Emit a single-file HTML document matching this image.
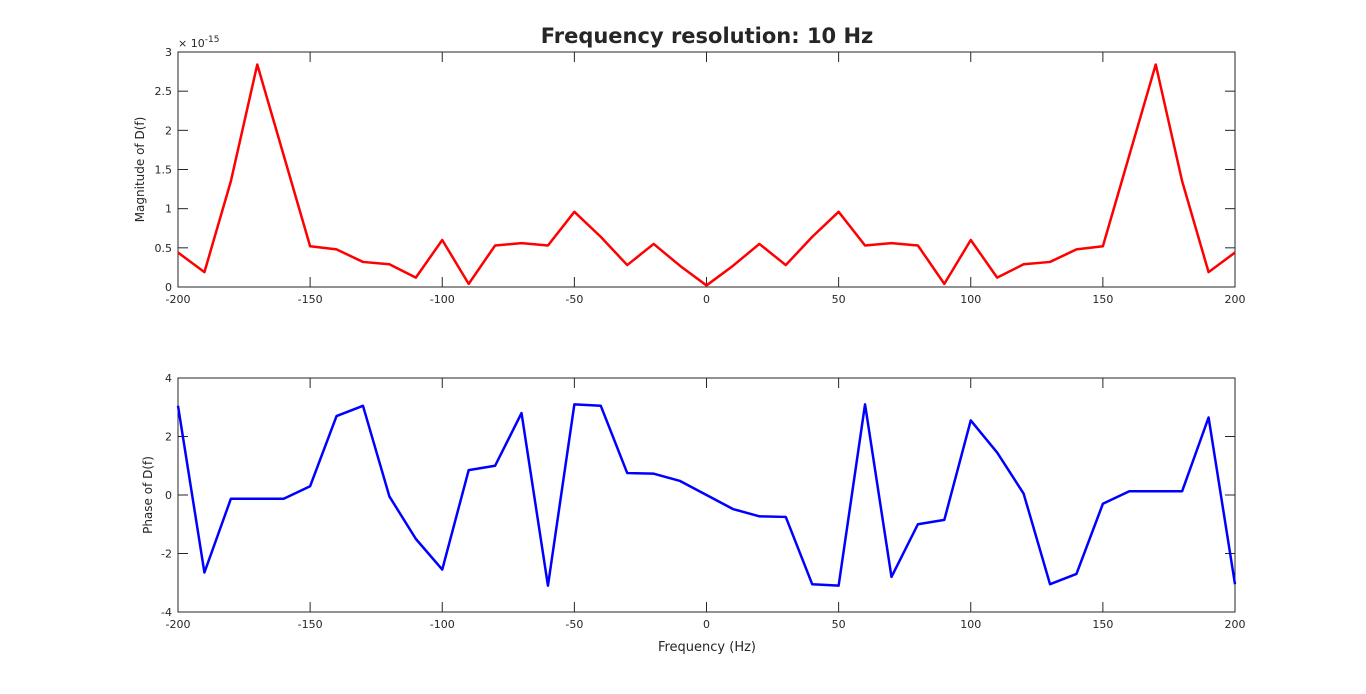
<!DOCTYPE html>
<html><head><meta charset="utf-8"><style>
body{margin:0;background:#fff;}
svg text{font-family:"DejaVu Sans","Liberation Sans",sans-serif;fill:#262626;}
</style></head><body>
<svg id="c" width="1366" height="689" xmlns="http://www.w3.org/2000/svg"></svg>
<script>
const freqs=[-200,-190,-180,-170,-160,-150,-140,-130,-120,-110,-100,-90,-80,-70,-60,-50,-40,-30,-20,-10,0,10,20,30,40,50,60,70,80,90,100,110,120,130,140,150,160,170,180,190,200];
const magHalf=[0.44,0.19,1.35,2.84,1.68,0.52,0.48,0.32,0.29,0.12,0.60,0.04,0.53,0.56,0.53,0.96,0.64,0.28,0.55,0.27,0.02];
const magnitude=magHalf.concat(magHalf.slice(0,20).reverse());
const phase=[3.05,-2.65,-0.13,-0.13,-0.13,0.3,2.7,3.05,-0.05,-1.5,-2.55,0.85,1.0,2.8,-3.1,3.1,3.05,0.75,0.73,0.48,0,-0.48,-0.73,-0.75,-3.05,-3.1,3.1,-2.8,-1.0,-0.85,2.55,1.45,0.05,-3.05,-2.7,-0.3,0.13,0.13,0.13,2.65,-3.05];
const xTicks=[-200,-150,-100,-50,0,50,100,150,200];
const magTicks=[0,0.5,1,1.5,2,2.5,3];
const magTickLabels=["0","0.5","1","1.5","2","2.5","3"];
const phaseTicks=[-4,-2,0,2,4];

const svg=document.getElementById('c');
const NS='http://www.w3.org/2000/svg';
function mk(t,a,p){const e=document.createElementNS(NS,t);for(const k in a)e.setAttribute(k,a[k]);(p||svg).appendChild(e);return e;}
const X0=178,X1=1235;
const sx=v=>X0+(v+200)/400*(X1-X0);

function panel(top,bot,ymin,ymax,yticks,ylabels,ytitle,vals,color,name){
  const sy=v=>bot-(v-ymin)/(ymax-ymin)*(bot-top);
  const g=mk('g',{});
  
  
  mk('rect',{x:X0,y:top,width:X1-X0,height:bot-top,fill:'#fff',stroke:'#262626','stroke-width':1},g);
  xTicks.forEach(t=>{
    const x=sx(t);
    mk('line',{x1:x,x2:x,y1:bot,y2:bot-10,stroke:'#262626'},g);
    mk('line',{x1:x,x2:x,y1:top,y2:top+10,stroke:'#262626'},g);
    const tx=mk('text',{x:x,y:bot+16,'text-anchor':'middle','font-size':11},g);tx.textContent=t;
    
    
  });
  yticks.forEach((t,i)=>{
    const y=sy(t);
    mk('line',{x1:X0,x2:X0+10,y1:y,y2:y,stroke:'#262626'},g);
    mk('line',{x1:X1,x2:X1-10,y1:y,y2:y,stroke:'#262626'},g);
    const tx=mk('text',{x:X0-6,y:y+4,'text-anchor':'end','font-size':11},g);tx.textContent=ylabels[i];
    
    
  });
  const yc=(top+bot)/2;
  const yt=mk('text',{x:0,y:0,'text-anchor':'middle','font-size':12,transform:`translate(${name==='magnitude-panel'?144:152},${yc}) rotate(-90)`},g);
  yt.textContent=ytitle;
  
  
  const pts=freqs.map((f,i)=>sx(f)+','+sy(vals[i])).join(' ');
  const pl=mk('polyline',{points:pts,fill:'none',stroke:color,'stroke-width':2.5,'stroke-linejoin':'round'},g);
  
  
}
panel(52,287,0,3,magTicks,magTickLabels,'Magnitude of D(f)',magnitude,'#ff0000','magnitude-panel');
panel(378,612,-4,4,phaseTicks,phaseTicks.map(String),'Phase of D(f)',phase,'#0000ff','phase-panel');

const ttl=mk('text',{x:707,y:43,'text-anchor':'middle','font-size':21,'font-weight':'bold'});
ttl.textContent='Frequency resolution: 10 Hz';


const ex=mk('text',{x:178,y:47,'font-size':11});
ex.innerHTML='× 10<tspan dy="-5" font-size="9">-15</tspan>';


const xl=mk('text',{x:707,y:651,'text-anchor':'middle','font-size':13});
xl.textContent='Frequency (Hz)';


</script>
</body></html>
